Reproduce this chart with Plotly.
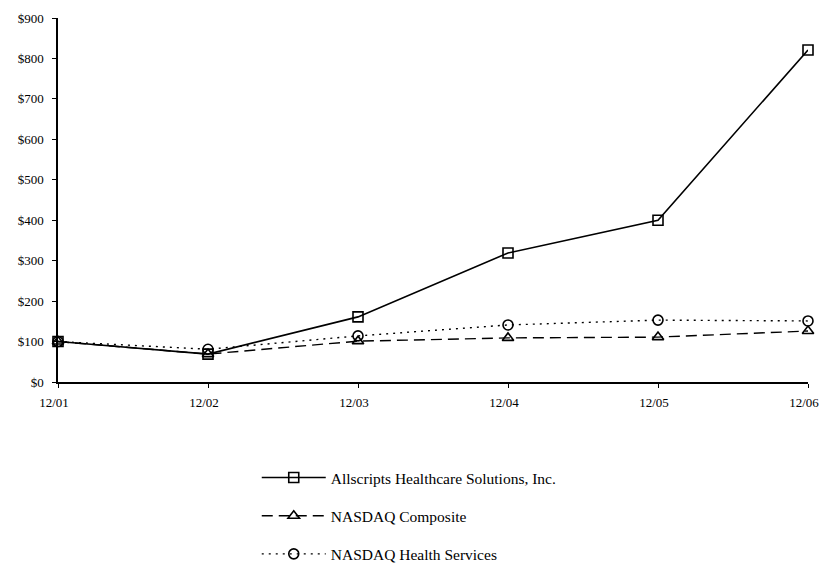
import plotly.graph_objects as go

periods = ["12/01", "12/02", "12/03", "12/04", "12/05", "12/06"]
allscripts = [100, 69, 161, 319, 400, 821]
nasdaq_comp = [100, 69, 101, 109, 111, 126]
nasdaq_health = [100, 81, 114, 141, 153, 151]
y_ticks = [0, 100, 200, 300, 400, 500, 600, 700, 800, 900]
y_labels = ["$%d" % v for v in y_ticks]

x = list(range(len(periods)))
serif = "Liberation Serif"

fig = go.Figure()
fig.add_trace(go.Scatter(
    x=x, y=allscripts, name="Allscripts Healthcare Solutions, Inc.",
    mode="lines+markers", legendgroup="a",
    line=dict(color="black", width=1.6, dash="solid"),
    marker=dict(symbol="square-open", size=10, color="black", line=dict(width=1.6)),
    cliponaxis=False))
fig.add_trace(go.Scatter(
    x=x, y=nasdaq_comp, name="NASDAQ Composite",
    mode="lines+markers", legendgroup="b",
    line=dict(color="black", width=1.4, dash="11px,6px"),
    marker=dict(symbol="triangle-up-open", size=10, color="black", line=dict(width=1.6)),
    cliponaxis=False))
fig.add_trace(go.Scatter(
    x=x, y=nasdaq_health, name="NASDAQ Health Services",
    mode="lines+markers", legendgroup="c",
    line=dict(color="black", width=1.4, dash="2px,5px"),
    marker=dict(symbol="circle-open", size=10, color="black", line=dict(width=1.6)),
    cliponaxis=False))

fig.update_layout(
    width=821, height=565,
    margin=dict(l=58, r=13, t=18, b=183, autoexpand=False),
    paper_bgcolor="white", plot_bgcolor="white",
    font=dict(family=serif, color="black", size=13),
    showlegend=True,
    legend=dict(x=0.265, y=-0.217, xanchor="left", yanchor="top",
                font=dict(family=serif, size=15.5, color="black"),
                itemwidth=64, tracegroupgap=15, bgcolor="rgba(0,0,0,0)"),
    xaxis=dict(range=[0, 5], tickvals=x, ticktext=periods, showgrid=False,
               zeroline=False, showline=True, linecolor="black", linewidth=1.5,
               ticks="outside", ticklen=4, tickcolor="black", ticklabelstandoff=4,
               ticklabelshift=-4, ticklabeloverflow="allow", automargin=False,
               tickfont=dict(family=serif, size=13)),
    yaxis=dict(range=[0, 900], tickvals=y_ticks, ticktext=y_labels, showgrid=False,
               zeroline=False, showline=True, linecolor="black", linewidth=1.5,
               ticks="outside", ticklen=4, tickcolor="black", ticklabelstandoff=6,
               automargin=False,
               tickfont=dict(family=serif, size=13)),
)

fig.write_html("out.html", config={"displayModeBar": False},
               post_script="document.body.style.margin='0';")
